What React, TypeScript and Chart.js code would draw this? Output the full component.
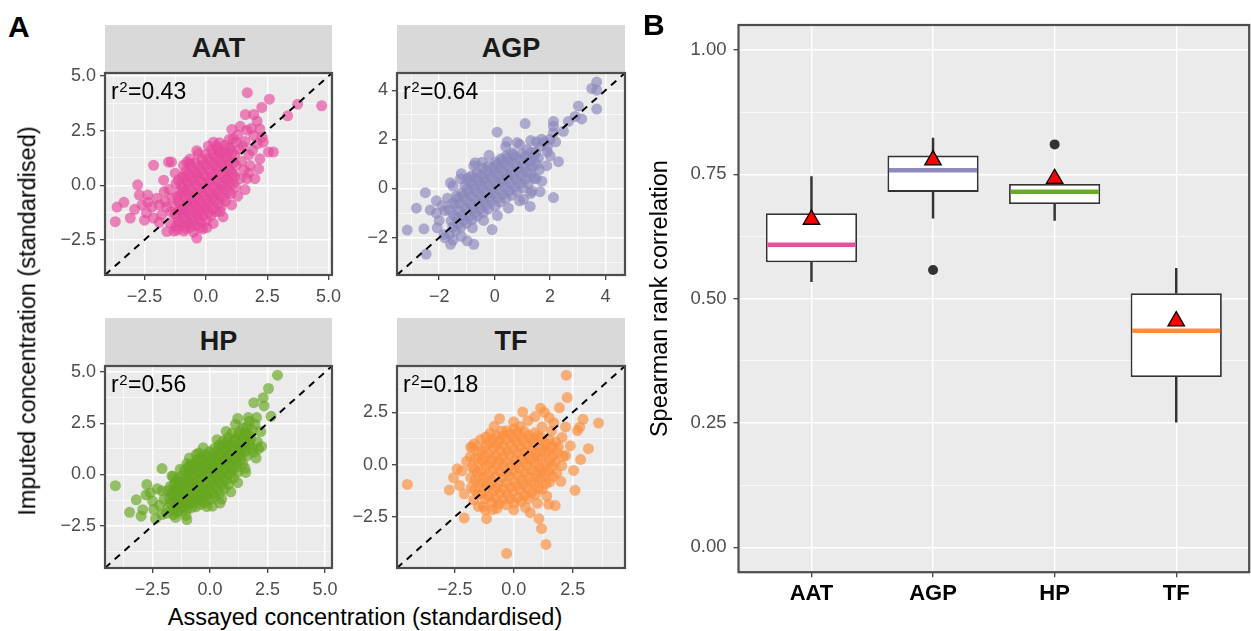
import React, { useEffect, useRef } from 'react';
import { Chart, registerables } from 'chart.js';

Chart.register(...registerables);

const FONT = '"Liberation Sans", Arial, Helvetica, sans-serif';

// ---------------- Panel A data ----------------
const PROTEINS = ['AAT', 'AGP', 'HP', 'TF'];
const R2_VALUES = ['0.43', '0.64', '0.56', '0.18'];
const POINT_COLORS = ['#e7489b', '#8a87bc', '#66a61e', '#fc8d3c'];

const AAT_POINTS: [number, number][] = [
  [-1.23, -1.88], [-1.18, -1.42], [-1.25, -0.97], [-1.16, -0.52], [-1.21, 0.08],
  [-1.03, -1.71], [-0.97, -1.27], [-1.05, -0.86], [-0.98, -0.38], [-1.02, 0.03], [-0.95, 0.41],
  [-0.82, -1.98], [-0.77, -1.62], [-0.84, -1.17], [-0.79, -0.81], [-0.83, -0.27], [-0.76, 0.19], [-0.81, 0.63],
  [-0.63, -1.93], [-0.57, -1.47], [-0.61, -1.08], [-0.58, -0.68], [-0.64, -0.22], [-0.56, 0.31], [-0.62, 0.79],
  [-0.42, -1.83], [-0.37, -1.31], [-0.43, -0.92], [-0.38, -0.47], [-0.41, 0.02], [-0.36, 0.52], [-0.44, 1.03],
  [-0.21, -1.69], [-0.18, -1.23], [-0.23, -0.78], [-0.17, -0.31], [-0.22, 0.21], [-0.19, 0.68], [-0.16, 1.18],
  [0.02, -1.62], [-0.03, -1.08], [0.04, -0.63], [-0.01, -0.12], [0.03, 0.38], [0.01, 0.92], [-0.02, 1.41],
  [0.21, -1.38], [0.18, -0.91], [0.23, -0.42], [0.17, 0.12], [0.22, 0.58], [0.19, 1.09], [0.24, 1.62],
  [0.41, -1.21], [0.38, -0.68], [0.43, -0.19], [0.37, 0.28], [0.42, 0.83], [0.39, 1.28], [0.44, 1.79],
  [0.62, -0.98], [0.57, -0.51], [0.63, 0.02], [0.58, 0.49], [0.61, 1.02], [0.56, 1.48],
  [0.81, -0.72], [0.78, -0.18], [0.83, 0.31], [0.77, 0.79], [0.82, 1.32], [0.79, 1.83],
  [1.02, -0.38], [0.98, 0.12], [1.03, 0.58], [0.97, 1.11], [1.01, 1.63],
  [1.21, -0.08], [1.18, 0.42], [1.23, 0.91], [1.17, 1.38], [1.22, 1.97],
  [-1.11, -1.66], [-1.08, -1.19], [-1.13, -0.73], [-1.07, -0.29], [-1.12, 0.24],
  [-0.91, -1.83], [-0.88, -1.46], [-0.93, -1.04], [-0.87, -0.61], [-0.92, -0.12], [-0.89, 0.36],
  [-0.71, -1.76], [-0.68, -1.31], [-0.73, -0.88], [-0.67, -0.44], [-0.72, 0.04], [-0.69, 0.51], [-0.66, 0.98],
  [-0.52, -1.67], [-0.47, -1.22], [-0.51, -0.81], [-0.48, -0.36], [-0.53, 0.18], [-0.46, 0.64],
  [-0.31, -1.52], [-0.28, -1.07], [-0.33, -0.63], [-0.27, -0.12], [-0.32, 0.38], [-0.29, 0.87],
  [-0.12, -1.41], [-0.08, -0.96], [-0.11, -0.51], [-0.07, 0.02], [-0.13, 0.47], [-0.09, 0.96],
  [0.11, -1.27], [0.08, -0.82], [0.12, -0.33], [0.07, 0.18], [0.13, 0.71], [0.09, 1.22],
  [0.31, -1.08], [0.28, -0.56], [0.32, -0.07], [0.27, 0.42], [0.33, 0.97], [0.29, 1.43],
  [0.52, -0.84], [0.47, -0.33], [0.51, 0.17], [0.48, 0.68], [0.53, 1.18], [0.49, 1.67],
  [0.71, -0.58], [0.68, -0.06], [0.72, 0.43], [0.67, 0.97], [0.73, 1.51],
  [0.91, -0.29], [0.88, 0.23], [0.92, 0.77], [0.87, 1.27], [0.93, 1.72],
  [1.11, 0.07], [1.08, 0.53], [1.12, 1.02], [1.07, 1.49],
  [-1.42, -1.21], [-1.38, -0.58], [-1.45, -1.72], [-1.5, -0.2], [-0.9, -2.1], [-0.5, -2.15], [-0.12, -2.0],
  [0.3, -1.75], [0.7, -1.45], [1.05, -0.9], [1.4, 0.3], [1.45, 1.1], [1.35, 1.65], [1.55, 0.7], [-0.3, 1.45],
  [-0.65, 1.2], [-1.25, 0.55], [0.1, 1.8], [0.55, 1.95], [0.95, 2.1], [1.3, -0.5], [1.6, -0.2], [-1.6, -1.0], [-1.3, -2.1],
  [1.69, 4.24], [2.59, 3.94], [3.74, 3.71], [4.72, 3.64], [3.33, 3.18], [2.28, 3.56], [1.95, 3.24], [1.61, 3.24],
  [2.09, 2.94], [1.4, 2.7], [1.06, 2.55], [2.2, 2.58], [1.67, 2.52], [2.75, 1.52], [2.55, 1.52], [2.2, 1.21],
  [2.0, 0.3], [1.67, 0.3], [2.34, 1.97], [1.95, 2.27],
  [-3.69, -1.67], [-3.62, -1.0], [-3.08, -1.5], [-3.34, -0.78], [-2.78, 0.02], [-2.71, -0.45], [-2.37, -0.45],
  [-2.13, 0.91], [-2.37, -0.78], [-2.13, -1.5], [-2.42, -1.27], [-1.8, -1.36], [-1.59, -2.12], [-1.18, -2.05],
  [-0.37, -2.42], [-1.52, 1.06], [-1.4, 1.06], [-1.72, 0.23], [-0.77, 1.06], [-0.91, 0.91], [0.04, -1.94],
  [-0.24, -1.94], [0.58, -1.2], [-0.37, 1.58], [0.31, 1.97], [0.58, 1.52], [1.12, 2.12],
  [1.5, 1.8], [1.75, 1.4], [1.8, 0.9], [1.9, 1.6], [2.1, 1.9], [1.6, 2.0], [1.85, 2.6], [1.3, 2.3], [2.3, 2.2],
  [1.75, 0.55], [2.15, 0.75],
  [-2.0, -0.6], [-1.9, -0.9], [-2.2, -1.0], [-1.7, -0.3], [-1.65, -0.75], [-2.6, -0.9], [-2.9, -1.1],
  [-1.9, -1.7], [-2.5, -1.6], [-1.25, -1.3],
];

const AGP_POINTS: [number, number][] = [
  [-1.62, -1.85], [-1.57, -1.32], [-1.64, -0.88],
  [-1.41, -1.71], [-1.36, -1.18], [-1.43, -0.67], [-1.38, -0.31],
  [-1.22, -1.58], [-1.17, -1.09], [-1.24, -0.62], [-1.19, -0.18],
  [-1.02, -1.41], [-0.97, -0.93], [-1.03, -0.48], [-0.98, -0.02], [-1.01, 0.37],
  [-0.81, -1.27], [-0.78, -0.79], [-0.83, -0.31], [-0.77, 0.12], [-0.82, 0.52],
  [-0.62, -1.12], [-0.57, -0.63], [-0.61, -0.17], [-0.58, 0.28], [-0.63, 0.66],
  [-0.41, -0.98], [-0.38, -0.49], [-0.43, -0.02], [-0.37, 0.41], [-0.42, 0.82],
  [-0.22, -0.83], [-0.18, -0.36], [-0.21, 0.11], [-0.17, 0.55], [-0.23, 0.92],
  [0.02, -0.72], [-0.03, -0.21], [0.03, 0.22], [-0.01, 0.68], [0.04, 1.08],
  [0.21, -0.55], [0.18, -0.08], [0.22, 0.37], [0.17, 0.81], [0.23, 1.21],
  [0.41, -0.41], [0.38, 0.06], [0.43, 0.52], [0.37, 0.97], [0.42, 1.33],
  [0.62, -0.27], [0.57, 0.21], [0.61, 0.66], [0.58, 1.12], [0.63, 1.45],
  [0.81, -0.12], [0.78, 0.36], [0.83, 0.82], [0.77, 1.27],
  [1.02, 0.03], [0.97, 0.51], [1.03, 0.97], [0.98, 1.41],
  [1.21, 0.18], [1.18, 0.66], [1.23, 1.13], [1.17, 1.58],
  [1.42, 0.42], [1.37, 0.88], [1.43, 1.32],
  [1.61, 0.77], [1.58, 1.24], [1.63, 1.72],
  [-1.51, -1.57], [-1.48, -1.08], [-1.53, -0.61],
  [-1.31, -1.43], [-1.28, -0.93], [-1.33, -0.41],
  [-1.11, -1.28], [-1.08, -0.79], [-1.13, -0.31], [-1.07, 0.12],
  [-0.91, -1.13], [-0.88, -0.62], [-0.93, -0.16], [-0.87, 0.27],
  [-0.71, -0.98], [-0.68, -0.48], [-0.73, -0.02], [-0.67, 0.43],
  [-0.52, -0.82], [-0.47, -0.33], [-0.51, 0.14], [-0.48, 0.58],
  [-0.31, -0.67], [-0.28, -0.18], [-0.33, 0.27], [-0.27, 0.71],
  [-0.12, -0.52], [-0.08, -0.03], [-0.11, 0.43], [-0.07, 0.86],
  [0.11, -0.38], [0.08, 0.12], [0.12, 0.57], [0.07, 0.98],
  [0.31, -0.23], [0.28, 0.27], [0.32, 0.72], [0.27, 1.12],
  [0.52, -0.09], [0.47, 0.41], [0.51, 0.86], [0.48, 1.27],
  [0.71, 0.07], [0.68, 0.56], [0.72, 1.02], [0.67, 1.38],
  [0.91, 0.22], [0.88, 0.71], [0.92, 1.17],
  [1.11, 0.38], [1.08, 0.86], [1.12, 1.31],
  [1.31, 0.61], [1.28, 1.07], [1.32, 1.48],
  [1.51, 0.98], [1.48, 1.46],
  [-2.0, -1.3], [-1.9, -0.7], [-2.1, -1.0], [-1.8, -2.0], [-1.5, -2.1], [-1.2, -1.95], [-0.8, -1.6],
  [-0.4, -1.3], [0.1, -1.1], [0.5, -0.8], [0.9, -0.5], [1.3, -0.2], [1.7, 0.3], [1.8, 1.9], [1.9, 1.5],
  [1.5, 1.9], [0.9, 1.8], [0.4, 1.7], [-0.2, 1.35], [-0.7, 1.05], [-1.2, 0.6], [-1.5, 0.1], [-1.7, -0.4],
  [2.0, 2.0], [1.3, 1.95],
  [3.68, 4.33], [3.5, 4.07], [3.68, 4.0], [3.68, 3.23], [3.02, 3.36], [3.14, 2.83], [2.9, 2.93], [2.66, 2.73],
  [2.12, 2.73], [2.12, 2.53], [2.48, 2.33], [1.1, 2.64], [0.09, 2.29], [0.45, 1.9], [0.81, 1.87], [2.12, 2.27],
  [2.3, 1.09], [2.0, 1.33], [1.88, 0.93], [2.12, -0.37], [1.64, -0.13], [1.34, -0.11], [1.04, -0.44], [1.28, -0.73],
  [-3.15, -1.69], [-2.55, -1.64], [-2.82, -0.8], [-2.5, -0.17], [-2.32, -0.88], [-2.47, -2.67], [-1.59, 0.23],
  [-1.23, 0.4], [-0.93, 0.44], [-0.75, 0.93], [-0.45, 1.07], [-0.09, -1.67], [-0.75, -2.27], [-0.99, -2.13],
  [-1.59, -2.27], [-1.83, -1.87], [-2.07, -1.6],
  [1.9, 1.7], [2.2, 1.9], [1.7, 2.0], [1.5, 0.4], [-1.8, -0.9], [-2.1, -0.5],
];

const HP_POINTS: [number, number][] = [
  [-1.82, -1.62], [-1.77, -1.18], [-1.84, -0.78],
  [-1.61, -1.72], [-1.58, -1.31], [-1.63, -0.92], [-1.57, -0.52],
  [-1.42, -1.83], [-1.37, -1.42], [-1.43, -1.01], [-1.38, -0.61], [-1.41, -0.21],
  [-1.21, -1.77], [-1.18, -1.33], [-1.23, -0.92], [-1.17, -0.48], [-1.22, -0.05],
  [-1.02, -1.71], [-0.97, -1.28], [-1.03, -0.83], [-0.98, -0.41], [-1.01, 0.02], [-0.96, 0.38],
  [-0.81, -1.62], [-0.78, -1.18], [-0.83, -0.72], [-0.77, -0.29], [-0.82, 0.17], [-0.79, 0.52],
  [-0.62, -1.58], [-0.57, -1.07], [-0.61, -0.62], [-0.58, -0.17], [-0.63, 0.27], [-0.56, 0.71],
  [-0.41, -1.47], [-0.38, -0.98], [-0.43, -0.51], [-0.37, -0.04], [-0.42, 0.41], [-0.39, 0.83],
  [-0.22, -1.38], [-0.18, -0.88], [-0.21, -0.38], [-0.17, 0.09], [-0.23, 0.52], [-0.19, 0.97],
  [0.02, -1.22], [-0.03, -0.73], [0.03, -0.24], [-0.01, 0.23], [0.04, 0.67], [-0.02, 1.12],
  [0.21, -1.08], [0.18, -0.57], [0.22, -0.09], [0.17, 0.38], [0.23, 0.83], [0.19, 1.28],
  [0.41, -0.93], [0.38, -0.41], [0.43, 0.07], [0.37, 0.52], [0.42, 0.98], [0.39, 1.43],
  [0.62, -0.72], [0.57, -0.23], [0.61, 0.24], [0.58, 0.71], [0.63, 1.17], [0.56, 1.62],
  [0.81, -0.47], [0.78, 0.02], [0.83, 0.48], [0.77, 0.93], [0.82, 1.38], [0.79, 1.81],
  [1.02, -0.18], [0.97, 0.28], [1.03, 0.73], [0.98, 1.18], [1.01, 1.62], [0.96, 2.02],
  [1.21, 0.12], [1.18, 0.58], [1.23, 1.03], [1.17, 1.48], [1.22, 1.93],
  [1.42, 0.52], [1.37, 0.98], [1.43, 1.41], [1.38, 1.87], [1.41, 2.28],
  [1.61, 0.92], [1.58, 1.37], [1.63, 1.82], [1.57, 2.31],
  [1.82, 1.28], [1.77, 1.73], [1.83, 2.18],
  [-1.71, -1.42], [-1.68, -0.97], [-1.73, -0.58],
  [-1.51, -1.53], [-1.48, -1.12], [-1.53, -0.71], [-1.47, -0.33],
  [-1.31, -1.62], [-1.28, -1.18], [-1.33, -0.79], [-1.27, -0.38],
  [-1.11, -1.52], [-1.08, -1.08], [-1.13, -0.62], [-1.07, -0.2], [-1.12, 0.19],
  [-0.91, -1.43], [-0.88, -0.98], [-0.93, -0.52], [-0.87, -0.08], [-0.92, 0.33],
  [-0.71, -1.38], [-0.68, -0.91], [-0.73, -0.47], [-0.67, 0.01], [-0.72, 0.43],
  [-0.52, -1.27], [-0.47, -0.81], [-0.51, -0.33], [-0.48, 0.18], [-0.53, 0.61],
  [-0.31, -1.17], [-0.28, -0.68], [-0.33, -0.17], [-0.27, 0.31], [-0.32, 0.73],
  [-0.12, -1.03], [-0.08, -0.52], [-0.11, -0.02], [-0.07, 0.44], [-0.13, 0.88],
  [0.11, -0.91], [0.08, -0.38], [0.12, 0.12], [0.07, 0.58], [0.13, 1.03],
  [0.31, -0.72], [0.28, -0.21], [0.32, 0.27], [0.27, 0.74], [0.33, 1.18],
  [0.52, -0.51], [0.47, -0.02], [0.51, 0.47], [0.48, 0.93], [0.53, 1.38],
  [0.71, -0.28], [0.68, 0.21], [0.72, 0.68], [0.67, 1.13], [0.73, 1.58],
  [0.91, 0.02], [0.88, 0.49], [0.92, 0.97], [0.87, 1.42],
  [1.11, 0.33], [1.08, 0.82], [1.12, 1.27], [1.07, 1.73],
  [1.31, 0.71], [1.28, 1.18], [1.32, 1.63], [1.27, 2.08],
  [1.51, 1.12], [1.48, 1.58], [1.53, 2.03],
  [1.71, 1.51], [1.68, 1.97],
  [-2.0, -1.2], [-2.1, -0.8], [-1.9, -1.9], [-2.2, -1.5], [-1.6, -0.1], [-1.3, 0.25], [-0.9, 0.8], [-0.5, 1.05],
  [0.1, -1.55], [0.5, -1.2], [0.9, -0.85], [1.2, -0.4], [1.55, 0.1], [2.0, 0.8], [2.05, 1.6], [1.95, 2.45],
  [1.1, 2.45], [0.7, 2.1], [-1.5, -2.1], [-1.05, -2.0],
  [2.93, 4.85], [2.54, 4.2], [2.31, 3.75], [2.35, 3.35], [1.9, 3.51], [2.65, 2.84], [1.2, 2.74], [1.66, 2.78],
  [2.02, 2.78], [2.24, 1.37], [2.1, 1.25], [1.89, 1.09], [1.52, 0.3], [-4.12, -0.55], [-2.75, -0.49],
  [-3.5, -1.85], [-3.21, -1.24], [-2.79, -1.0], [-2.93, -1.72], [-3.0, -2.04], [-2.37, -2.16], [-2.09, 0.29],
  [-1.66, -0.07], [-2.09, -1.96], [-1.59, -1.96], [-1.01, -2.21], [-0.6, 0.97], [-1.01, 0.53], [0.43, -1.4],
  [-0.14, -1.57],
  [-2.5, -1.3], [-2.6, -0.9], [-2.3, -0.7], [-2.45, -1.7], [1.7, 2.6], [2.2, 2.1], [0.3, 1.7], [-0.3, 1.3],
];

const TF_POINTS: [number, number][] = [
  [-1.82, -0.62], [-1.77, -0.12], [-1.84, 0.38], [-1.79, -1.08],
  [-1.52, -1.42], [-1.47, -0.91], [-1.53, -0.38], [-1.48, 0.12], [-1.51, 0.63],
  [-1.21, -1.63], [-1.18, -1.12], [-1.23, -0.58], [-1.17, -0.07], [-1.22, 0.42], [-1.19, 0.91],
  [-0.92, -1.78], [-0.87, -1.27], [-0.93, -0.76], [-0.88, -0.24], [-0.91, 0.27], [-0.86, 0.76], [-0.89, 1.22],
  [-0.62, -1.88], [-0.57, -1.37], [-0.61, -0.86], [-0.58, -0.34], [-0.63, 0.17], [-0.56, 0.66], [-0.62, 1.13],
  [-0.32, -1.92], [-0.28, -1.41], [-0.31, -0.88], [-0.27, -0.37], [-0.33, 0.12], [-0.29, 0.63], [-0.31, 1.18], [-0.28, 1.62],
  [0.02, -1.83], [-0.03, -1.32], [0.03, -0.81], [-0.01, -0.28], [0.04, 0.22], [-0.02, 0.73], [0.01, 1.24], [0.03, 1.71],
  [0.31, -1.76], [0.28, -1.23], [0.32, -0.72], [0.27, -0.19], [0.33, 0.31], [0.29, 0.82], [0.31, 1.33], [0.27, 1.82],
  [0.62, -1.62], [0.57, -1.11], [0.61, -0.58], [0.58, -0.07], [0.63, 0.42], [0.56, 0.93], [0.62, 1.41],
  [0.91, -1.43], [0.87, -0.92], [0.93, -0.41], [0.88, 0.08], [0.92, 0.57], [0.86, 1.06], [0.89, 1.52],
  [1.21, -1.18], [1.18, -0.67], [1.23, -0.18], [1.17, 0.33], [1.22, 0.82], [1.19, 1.31],
  [1.52, -0.83], [1.47, -0.32], [1.53, 0.18], [1.48, 0.67], [1.51, 1.17],
  [1.82, -0.41], [1.77, 0.11], [1.83, 0.58], [1.79, 1.08],
  [-1.66, -1.21], [-1.63, -0.72], [-1.67, -0.21], [-1.62, 0.31],
  [-1.36, -1.38], [-1.33, -0.86], [-1.37, -0.33], [-1.32, 0.18], [-1.36, 0.68],
  [-1.06, -1.52], [-1.03, -1.01], [-1.07, -0.49], [-1.02, 0.02], [-1.06, 0.52], [-1.03, 1.03],
  [-0.76, -1.62], [-0.73, -1.11], [-0.77, -0.58], [-0.72, -0.07], [-0.76, 0.43], [-0.73, 0.93], [-0.74, 1.38],
  [-0.46, -1.68], [-0.43, -1.16], [-0.47, -0.62], [-0.42, -0.11], [-0.46, 0.38], [-0.43, 0.88], [-0.45, 1.37],
  [-0.16, -1.63], [-0.13, -1.08], [-0.17, -0.56], [-0.12, -0.04], [-0.16, 0.47], [-0.13, 0.98], [-0.15, 1.46],
  [0.16, -1.58], [0.13, -1.03], [0.17, -0.49], [0.12, 0.02], [0.16, 0.56], [0.13, 1.07], [0.15, 1.54],
  [0.46, -1.47], [0.43, -0.93], [0.47, -0.38], [0.42, 0.12], [0.46, 0.63], [0.43, 1.12], [0.45, 1.58],
  [0.76, -1.33], [0.73, -0.81], [0.77, -0.27], [0.72, 0.23], [0.76, 0.71], [0.73, 1.22],
  [1.06, -1.12], [1.03, -0.63], [1.07, -0.12], [1.02, 0.38], [1.06, 0.88], [1.03, 1.36],
  [1.36, -0.91], [1.33, -0.41], [1.37, 0.07], [1.32, 0.57], [1.36, 1.02],
  [1.66, -0.58], [1.63, -0.08], [1.67, 0.42], [1.62, 0.88],
  [-2.1, -1.4], [-2.2, -0.3], [-2.0, 0.15], [-1.7, -1.7], [-1.3, -2.0], [-0.9, -2.15], [0.5, -2.05], [1.0, -1.85],
  [1.4, -1.5], [2.0, -0.8], [2.1, 0.4], [2.05, 1.3], [1.6, 1.6], [1.2, 1.8], [0.6, 2.1], [0.0, 2.05], [-0.5, 1.6],
  [-1.0, 1.5], [-1.4, 1.2], [-1.75, 0.85], [1.7, 2.0], [0.9, 2.3], [-0.6, 2.2],
  [2.23, 4.28], [2.27, 3.21], [3.6, 1.99], [3.17, 0.76], [2.84, 0.24], [2.54, -0.28], [2.6, -1.23], [2.94, 2.17],
  [2.8, 1.79], [2.7, 1.63], [1.94, 2.72], [1.14, 2.7], [0.38, 2.52], [-0.83, 1.83], [-4.51, -0.95], [-2.55, -0.63],
  [-2.73, -1.22], [-2.1, -2.56], [-1.15, -2.59], [-1.2, -2.17], [-1.82, 0.84], [-1.67, 1.0], [-1.18, 1.32],
  [-0.3, -4.25], [1.37, -3.82], [1.18, -3.06], [1.07, -2.59], [1.48, -1.9], [1.76, -1.96], [0.0, -2.17],
  [-0.71, -2.1], [1.9, 0.84], [2.04, -0.05], [2.2, 0.43],
  [1.3, 2.5], [1.5, 2.25], [2.2, 1.8], [2.4, 0.9], [-2.3, -1.0], [-2.4, -0.2], [-1.5, -2.0], [0.7, -2.3],
];

// axis limits (identical on x and y in each facet)
const AAT_LIMITS = [-4.11, 5.14];
const AGP_LIMITS = [-3.52, 4.7];
const HP_LIMITS = [-4.57, 5.3];
const TF_LIMITS = [-4.95, 4.72];

const AAT_MAJOR = [-2.5, 0, 2.5, 5];
const AAT_MINOR = [-3.75, -1.25, 1.25, 3.75];
const AGP_MAJOR = [-2, 0, 2, 4];
const AGP_MINOR = [-3, -1, 1, 3];
const HP_MAJOR = [-2.5, 0, 2.5, 5];
const HP_MINOR = [-3.75, -1.25, 1.25, 3.75];
const TF_MAJOR = [-2.5, 0, 2.5];
const TF_MINOR = [-3.75, -1.25, 1.25, 3.75];

// ---------------- Panel B data ----------------
const BOX_CATEGORIES = ['AAT', 'AGP', 'HP', 'TF'];
const BOX_Q1 = [0.573, 0.7145, 0.69, 0.3424];
const BOX_Q3 = [0.6716, 0.7875, 0.7305, 0.5108];
const BOX_MEDIAN = [0.6085, 0.758, 0.715, 0.4355];
const BOX_WHISKER_LOW = [0.534, 0.6616, 0.657, 0.2514];
const BOX_WHISKER_HIGH = [0.7452, 0.8225, 0.7305, 0.561];
const BOX_MEAN = [0.659, 0.7784, 0.741, 0.4547];
const BOX_OUTLIER_CATEGORY = ['AGP', 'HP'];
const BOX_OUTLIER_VALUE = [0.5576, 0.81];
const BOX_MEDIAN_COLORS = ['#e8509c', '#8d8bbd', '#6aaa28', '#fd8d3c'];
const BOX_Y_MAJOR = [0, 0.25, 0.5, 0.75, 1];
const BOX_Y_MINOR = [0.125, 0.375, 0.625, 0.875];

// ---------------- layout ----------------
const PANELS = [
  { name: 'AAT', points: AAT_POINTS, limits: AAT_LIMITS, major: AAT_MAJOR, minor: AAT_MINOR, decimals: 1,
    area: { l: 105, t: 73, r: 332, b: 275 }, box: { x: 40, y: 50, w: 320, h: 260 } },
  { name: 'AGP', points: AGP_POINTS, limits: AGP_LIMITS, major: AGP_MAJOR, minor: AGP_MINOR, decimals: 0,
    area: { l: 397, t: 73, r: 625, b: 275 }, box: { x: 340, y: 50, w: 315, h: 260 } },
  { name: 'HP', points: HP_POINTS, limits: HP_LIMITS, major: HP_MAJOR, minor: HP_MINOR, decimals: 1,
    area: { l: 105, t: 366, r: 332, b: 568 }, box: { x: 40, y: 343, w: 320, h: 260 } },
  { name: 'TF', points: TF_POINTS, limits: TF_LIMITS, major: TF_MAJOR, minor: TF_MINOR, decimals: 1,
    area: { l: 397, t: 366, r: 625, b: 568 }, box: { x: 340, y: 343, w: 315, h: 260 } },
];

const BOX_AREA = { l: 738.5, t: 25, r: 1258.7, b: 572.2 };
const BOX_CANVAS = { x: 640, y: 0, w: 620, h: 631 };

const fmtTick = (v: number, d: number) => Number(v).toFixed(d).replace('-', '\u2212');

function ScatterPanel({ panel, color, r2 }: any) {
  const ref = useRef<HTMLCanvasElement>(null);
  useEffect(() => {
    const canvas = ref.current;
    if (!canvas) return;
    const { points, limits, major, minor, decimals, area, box } = panel;
    const all = [...minor, ...major].sort((a: number, b: number) => a - b);
    const isMajor = (v: any) => major.some((m: number) => Math.abs(m - Number(v)) < 1e-6);
    const makeAxis = (axis: 'x' | 'y') => ({
      type: 'linear',
      position: axis === 'x' ? 'bottom' : 'left',
      min: limits[0],
      max: limits[1],
      afterBuildTicks: (s: any) => { s.ticks = all.map((v: number) => ({ value: v })); },
      afterFit: (s: any) => {
        if (axis === 'x') s.height = box.y + box.h - area.b;
        else s.width = area.l - box.x;
      },
      grid: {
        color: '#ffffff',
        lineWidth: (c: any) => (c.tick && isMajor(c.tick.value) ? 1.4 : 0.7),
        drawTicks: true,
        tickLength: 5,
        tickWidth: 1.2,
        tickColor: (c: any) => (c.tick && isMajor(c.tick.value) ? '#333333' : 'rgba(0,0,0,0)'),
      },
      border: { display: false },
      ticks: {
        autoSkip: false, maxRotation: 0, minRotation: 0, padding: axis === 'x' ? 6 : 4,
        color: '#4d4d4d', font: { family: FONT, size: 18 },
        callback: (v: any) => (isMajor(v) ? fmtTick(v, decimals) : ''),
      },
    });
    const decor = {
      id: 'decor',
      beforeDraw(chart: any) {
        const { ctx, chartArea: a } = chart;
        ctx.save();
        ctx.fillStyle = '#ebebeb';
        ctx.fillRect(a.left, a.top, a.right - a.left, a.bottom - a.top);
        ctx.restore();
      },
      afterDraw(chart: any) {
        const { ctx, chartArea: a } = chart;
        ctx.save();
        ctx.strokeStyle = '#4d4d4d';
        ctx.lineWidth = 2.2;
        ctx.strokeRect(a.left, a.top, a.right - a.left, a.bottom - a.top);
        ctx.fillStyle = '#000000';
        ctx.textBaseline = 'alphabetic';
        ctx.textAlign = 'left';
        let x = a.left + 6;
        const y = a.top + 26;
        ctx.font = `23px ${FONT}`;
        ctx.fillText('r', x, y);
        x += ctx.measureText('r').width + 0.5;
        ctx.font = `15px ${FONT}`;
        ctx.fillText('2', x, y - 7);
        x += ctx.measureText('2').width + 0.5;
        ctx.font = `23px ${FONT}`;
        ctx.fillText('=' + r2, x, y);
        ctx.restore();
      },
    };
    const chart = new Chart(canvas, {
      type: 'scatter',
      data: {
        datasets: [
          {
            data: [{ x: limits[0], y: limits[0] }, { x: limits[1], y: limits[1] }],
            showLine: true, borderColor: '#000000', borderWidth: 2, borderDash: [7, 6],
            pointRadius: 0, order: 0,
          },
          {
            data: points.map(([x, y]: [number, number]) => ({ x, y })),
            pointRadius: 5.5, pointBackgroundColor: color + 'a6', backgroundColor: color + 'a6',
            pointBorderWidth: 0, borderWidth: 0, order: 1,
          },
        ],
      } as any,
      options: {
        responsive: false, maintainAspectRatio: false, animation: false, events: [],
        layout: { padding: { left: 0, bottom: 0, top: area.t - box.y, right: box.x + box.w - area.r } },
        plugins: { legend: { display: false }, tooltip: { enabled: false } },
        scales: { x: makeAxis('x'), y: makeAxis('y') } as any,
      },
      plugins: [decor],
    });
    return () => chart.destroy();
  }, [panel, color, r2]);
  const { box } = panel;
  return (
    <canvas ref={ref} width={box.w} height={box.h}
      style={{ position: 'absolute', left: box.x, top: box.y, width: box.w, height: box.h }} />
  );
}

function BoxPanel() {
  const ref = useRef<HTMLCanvasElement>(null);
  useEffect(() => {
    const canvas = ref.current;
    if (!canvas) return;
    const a = BOX_AREA, b = BOX_CANVAS;
    const allY = [...BOX_Y_MINOR, ...BOX_Y_MAJOR].sort((p, q) => p - q);
    const isMajorY = (v: any) => BOX_Y_MAJOR.some((m) => Math.abs(m - Number(v)) < 1e-6);
    const xPos = (c: string) => BOX_CATEGORIES.indexOf(c) + 1;
    const decor = {
      id: 'boxdecor',
      beforeDraw(chart: any) {
        const { ctx, chartArea: ca } = chart;
        ctx.save();
        ctx.fillStyle = '#ebebeb';
        ctx.fillRect(ca.left, ca.top, ca.right - ca.left, ca.bottom - ca.top);
        ctx.restore();
      },
      afterDatasetDraw(chart: any, args: any) {
        const ds = chart.data.datasets[args.index];
        if (ds.label !== 'box') return;
        const { ctx } = chart;
        const ys = chart.scales.y;
        ctx.save();
        ctx.lineWidth = 4.5;
        ctx.lineCap = 'butt';
        args.meta.data.forEach((el: any, i: number) => {
          const py = ys.getPixelForValue(BOX_MEDIAN[i]);
          ctx.strokeStyle = BOX_MEDIAN_COLORS[i];
          ctx.beginPath();
          ctx.moveTo(el.x - el.width / 2 + 1.5, py);
          ctx.lineTo(el.x + el.width / 2 - 1.5, py);
          ctx.stroke();
        });
        ctx.restore();
      },
      afterDraw(chart: any) {
        const { ctx, chartArea: ca } = chart;
        ctx.save();
        ctx.strokeStyle = '#4d4d4d';
        ctx.lineWidth = 2.2;
        ctx.strokeRect(ca.left, ca.top, ca.right - ca.left, ca.bottom - ca.top);
        ctx.restore();
      },
    };
    const chart = new Chart(canvas, {
      type: 'bar',
      data: {
        datasets: [
          {
            type: 'line', label: 'mean', data: BOX_MEAN.map((v, i) => ({ x: i + 1, y: v })),
            showLine: false, pointStyle: 'triangle', pointRadius: 9.5,
            pointBackgroundColor: '#ff0000', pointBorderColor: '#000000', pointBorderWidth: 1.3, order: 0,
          },
          {
            type: 'line', label: 'outliers',
            data: BOX_OUTLIER_VALUE.map((v, i) => ({ x: xPos(BOX_OUTLIER_CATEGORY[i]), y: v })),
            showLine: false, pointStyle: 'circle', pointRadius: 5,
            pointBackgroundColor: '#333333', pointBorderWidth: 0, order: 1,
          },
          {
            type: 'bar', label: 'box', data: BOX_Q1.map((q, i) => ({ x: i + 1, y: [q, BOX_Q3[i]] })),
            backgroundColor: '#ffffff', borderColor: '#333333', borderWidth: 1.8, borderSkipped: false,
            barPercentage: 0.75, categoryPercentage: 1, grouped: false, order: 2,
          },
          {
            type: 'bar', label: 'whisker-low',
            data: BOX_WHISKER_LOW.map((w, i) => ({ x: i + 1, y: [w, BOX_Q1[i]] })),
            backgroundColor: '#333333', borderWidth: 0, barThickness: 1.8, grouped: false, order: 3,
          },
          {
            type: 'bar', label: 'whisker-high',
            data: BOX_WHISKER_HIGH.map((w, i) => ({ x: i + 1, y: [BOX_Q3[i], w] })),
            backgroundColor: '#333333', borderWidth: 0, barThickness: 1.8, grouped: false, order: 3,
          },
        ],
      } as any,
      options: {
        responsive: false, maintainAspectRatio: false, animation: false, events: [],
        layout: { padding: { left: 0, top: a.t - b.y, right: b.x + b.w - a.r, bottom: 0 } },
        plugins: { legend: { display: false }, tooltip: { enabled: false } },
        scales: {
          x: {
            type: 'linear', min: 0.4, max: 4.6, offset: false,
            afterBuildTicks: (s: any) => { s.ticks = BOX_CATEGORIES.map((_, i) => ({ value: i + 1 })); },
            afterFit: (s: any) => { s.height = b.y + b.h - a.b; },
            grid: { offset: false, color: '#ffffff', lineWidth: 1.4, drawTicks: true, tickLength: 5, tickWidth: 1.2, tickColor: '#333333' },
            border: { display: false },
            ticks: {
              autoSkip: false, maxRotation: 0, padding: 4, color: '#000000',
              font: { family: FONT, size: 22, weight: 'bold' },
              callback: (v: any) => BOX_CATEGORIES[Math.round(Number(v)) - 1] ?? '',
            },
          },
          y: {
            type: 'linear', min: -0.05, max: 1.05,
            afterBuildTicks: (s: any) => { s.ticks = allY.map((v) => ({ value: v })); },
            afterFit: (s: any) => { s.width = a.l - b.x; },
            grid: {
              color: '#ffffff',
              lineWidth: (c: any) => (c.tick && isMajorY(c.tick.value) ? 1.4 : 0.7),
              drawTicks: true, tickLength: 5, tickWidth: 1.2,
              tickColor: (c: any) => (c.tick && isMajorY(c.tick.value) ? '#333333' : 'rgba(0,0,0,0)'),
            },
            border: { display: false },
            title: {
              display: true, text: 'Spearman rank correlation', color: '#000000',
              font: { family: FONT, size: 23.5 }, padding: { top: 6, bottom: 0 },
            },
            ticks: {
              autoSkip: false, padding: 7, color: '#4d4d4d', font: { family: FONT, size: 18.5 },
              callback: (v: any) => (isMajorY(v) ? Number(v).toFixed(2) : ''),
            },
          },
        } as any,
      },
      plugins: [decor],
    });
    return () => chart.destroy();
  }, []);
  const b = BOX_CANVAS;
  return (
    <canvas ref={ref} width={b.w} height={b.h}
      style={{ position: 'absolute', left: b.x, top: b.y, width: b.w, height: b.h }} />
  );
}

export default function App() {
  return (
    <div style={{ position: 'fixed', left: 0, top: 0, width: 1251, height: 631, overflow: 'hidden', background: '#ffffff', fontFamily: FONT }}>
      {PANELS.map((p, i) => (
        <div key={'strip' + i} style={{
          position: 'absolute', left: p.area.l, top: p.area.t - 48, width: p.area.r - p.area.l, height: 47,
          background: '#d9d9d9', display: 'flex', alignItems: 'center', justifyContent: 'center',
          fontWeight: 'bold', fontSize: 27, color: '#1a1a1a', lineHeight: 1,
        }}>{PROTEINS[i]}</div>
      ))}
      {PANELS.map((p, i) => (
        <ScatterPanel key={'panel' + i} panel={p} color={POINT_COLORS[i]} r2={R2_VALUES[i]} />
      ))}
      <BoxPanel />
      <div style={{ position: 'absolute', left: 8, top: 12, fontSize: 30, fontWeight: 'bold', lineHeight: 1, color: '#000' }}>A</div>
      <div style={{ position: 'absolute', left: 643, top: 10, fontSize: 30, fontWeight: 'bold', lineHeight: 1, color: '#000' }}>B</div>
      <div style={{
        position: 'absolute', left: 27.5, top: 321, transform: 'translate(-50%, -50%) rotate(-90deg)',
        fontSize: 23.5, whiteSpace: 'nowrap', lineHeight: 1, color: '#000',
      }}>Imputed concentration (standardised)</div>
      <div style={{
        position: 'absolute', left: 365, top: 618, transform: 'translate(-50%, -50%)',
        fontSize: 23.5, whiteSpace: 'nowrap', lineHeight: 1, color: '#000',
      }}>Assayed concentration (standardised)</div>
    </div>
  );
}
